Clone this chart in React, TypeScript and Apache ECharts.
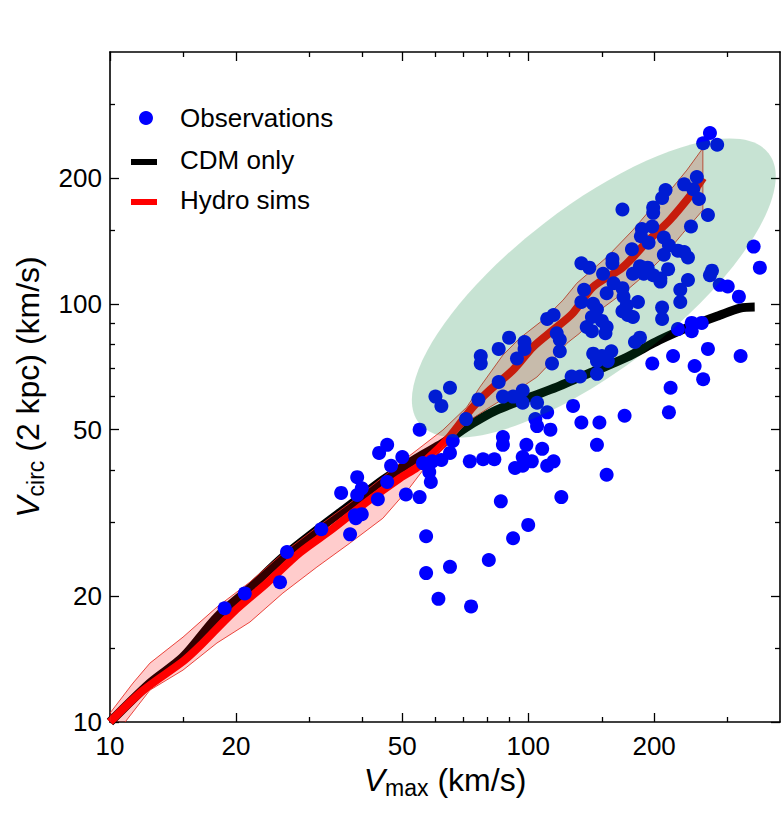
import React, { useEffect, useRef } from 'react';
import * as echarts from 'echarts';

const FONT = '"Liberation Sans", Arial, Helvetica, sans-serif';

// Tick values (log axes)
const xMajorTicks = [10, 20, 50, 100, 200];
const xMinorTicks = [15, 30, 40, 60, 70, 80, 90, 150, 300];
const yMajorTicks = [10, 20, 50, 100, 200];
const yMinorTicks = [15, 30, 40, 60, 70, 80, 90, 150, 300];

// CDM only curve
const cdmVmax = [10, 12.46, 14.95, 18.02, 21.61, 25.91, 31.24, 37.47, 44.92, 54.2, 62.5, 73.7, 84, 101, 117, 133, 143, 172, 206, 248, 287, 321, 348];
const cdmVcirc = [10, 12.39, 14.3, 17.82, 20.9, 24.79, 28.77, 33.0, 37.89, 42.76, 46.43, 51.8, 55.7, 59.8, 63.2, 66.8, 68.8, 74.5, 81.9, 88.9, 93.9, 97.6, 98.2];

// Hydro sims median curve
const hydroVmax = [10, 12, 15, 16.41, 19.7, 23.73, 28.45, 34.1, 41.15, 49.34, 54.2, 59.2, 65, 73.7, 81, 91.9, 102.6, 114.6, 127.9, 142.7, 168.5, 192, 218, 248, 262];
const hydroVcirc = [10, 11.9, 14.0, 15.2, 18.3, 21.5, 25.4, 29.0, 33.6, 38.3, 40.6, 43.8, 48.2, 56.6, 62.2, 69.4, 78.8, 86.5, 95.0, 109.6, 122.4, 140.4, 158.5, 185, 200];

// Hydro sims scatter band (upper / lower edges)
const hydroUpperVmax = [10, 11.35, 12.46, 14.95, 18.02, 21.61, 25.91, 31.24, 37.47, 44.92, 49.34, 54.2, 62.5, 71.3, 76.64, 87.0, 95.51, 108.4, 121.1, 130.7, 154.2, 177.9, 195.4, 221.8, 239.6, 261.6];
const hydroUpperVcirc = [10.5, 12.39, 13.83, 15.96, 18.83, 21.61, 25.34, 29.24, 33.38, 38.51, 41.6, 44.7, 49.9, 56.6, 63.2, 75.4, 82.8, 91.4, 102.0, 112.0, 129.3, 150.0, 167.5, 190.1, 208.8, 235.6];
const hydroLowerVmax = [10, 10.87, 12.46, 14.95, 18.02, 21.61, 25.91, 31.24, 37.47, 44.92, 52.13, 59.17, 63.2, 72.53, 80.97, 91.9, 104.9, 114.6, 123.8, 132.9, 148.4, 172.2, 192.2, 210.0, 234.4, 261.6];
const hydroLowerVcirc = [9.3, 10, 11.92, 13.31, 15.45, 17.34, 20.34, 23.47, 26.78, 30.7, 36.4, 43.0, 45.9, 52.7, 56.6, 61.15, 66.8, 73.3, 80.5, 85.1, 96.6, 107.8, 118.4, 129.3, 147.5, 167.5];

// Green ellipse (in data values)
const ellipseCenter = [143.5, 109];
const ellipseMajorEnd = [376, 229];
const ellipseAxisRatio = 0.37;

// Observations [Vmax, Vcirc(2kpc)]
const observations: [number, number][] = [
  [272, 256], [262, 242], [283, 240], [236, 193], [253, 201], [248, 188], [256, 178], [269, 163],
  [213, 187], [209, 179], [199, 170], [199, 165], [168, 168], [245, 153], [198, 153], [187, 151],
  [186, 145], [194, 140], [177, 135], [211, 144], [217, 138], [228, 134], [236, 133], [241, 129],
  [211, 131], [159, 128], [346, 137], [358, 122], [134, 125], [140, 122], [151, 118], [185, 123],
  [193, 122], [178, 118], [189, 118], [199, 117], [207, 115], [216, 121], [207, 113], [275, 120],
  [272, 117], [241, 114], [287, 111], [300, 110], [319, 104], [231, 108], [160, 112], [136, 108],
  [154, 106], [168, 109], [169, 104], [159, 125], [134, 101], [231, 101], [183, 101], [172, 99],
  [173, 94], [143, 100], [146, 97], [142, 93], [150, 91], [154, 88], [138, 88], [142, 86],
  [153, 85], [168, 96], [178, 93], [209, 98], [209, 92], [111, 92], [115, 94], [117, 85],
  [119, 82], [90, 83], [85, 78], [98, 81], [98, 78], [228, 87], [246, 90], [246, 86],
  [260, 90], [185, 83], [180, 81], [119, 77], [114, 72], [77, 75], [77, 72], [94, 74],
  [143, 76], [150, 75], [158, 77], [155, 73], [146, 73], [198, 72], [222, 75], [250, 71],
  [269, 78], [322, 75], [262, 66], [219, 63], [127, 67], [133, 67], [146, 68], [65, 63],
  [60, 60], [62, 57], [85, 65], [87, 60], [92, 60], [97, 62], [76, 59], [97, 58],
  [105, 58], [111, 55], [71, 53], [55, 50], [104, 53], [105, 51], [113, 50], [128, 57],
  [134, 52], [148, 52], [146, 46], [170, 54], [217, 55], [87, 48], [87, 46], [99, 46],
  [97, 43], [108, 45], [102, 42], [93, 40.5], [97, 41], [111, 41], [115, 42], [72.5, 42],
  [78, 42.5], [83, 42.5], [66, 47], [65, 44], [46, 46], [44, 44], [50, 43], [47, 41],
  [56, 41.6], [59, 42], [62, 42.3], [58, 39.6], [58.5, 37.5], [46, 37.5], [154, 39], [51, 35],
  [55, 34.5], [86, 33.7], [120, 34.5], [100, 29.6], [92, 27.5], [80.5, 24.4], [57, 27.8], [65, 23.5],
  [57, 22.7], [61, 19.7], [73, 18.9], [18.8, 18.7], [21, 20.3], [25.5, 21.6], [26.5, 25.5], [32, 28.9],
  [37.5, 28.1], [35.7, 35.3], [39, 38.5], [39, 34.9], [40, 36.2], [38.5, 31.2], [40, 31.4], [38.7, 30.7],
  [43.7, 34.1],
];

const legendLabels = ['Observations', 'CDM only', 'Hydro sims'];

const axisMin = 10;
const axisMax = 400;

function makeAxis(position: string, ticks: number[], len: number, showLine: boolean, showLabel: boolean, extra: any = {}) {
  return {
    type: 'log',
    logBase: 10,
    min: axisMin,
    max: axisMax,
    position,
    offset: 0,
    axisLine: { show: showLine, onZero: false, lineStyle: { color: '#000', width: 1.6 } },
    axisTick: { show: true, inside: true, length: len, customValues: ticks, lineStyle: { color: '#000', width: 1.3 } },
    axisLabel: showLabel
      ? { show: true, customValues: ticks, color: '#000', fontSize: 26, fontFamily: FONT, margin: position === 'bottom' ? 11 : 8 }
      : { show: false },
    splitLine: { show: false },
    minorTick: { show: false },
    minorSplitLine: { show: false },
    ...extra,
  };
}

const richName = {
  v: { fontStyle: 'italic', fontSize: 32, fontFamily: FONT, color: '#000' },
  s: { fontSize: 23, fontFamily: FONT, color: '#000', padding: [16, 0, 0, 0] },
  n: { fontSize: 32, fontFamily: FONT, color: '#000' },
};

export default function App() {
  const ref = useRef<HTMLDivElement>(null);
  useEffect(() => {
    document.body.style.margin = '0';
    const chart = echarts.init(ref.current!, null, { renderer: 'svg' });
    const option: any = {
      animation: false,
      backgroundColor: '#fff',
      grid: { left: 110, right: 2, top: 52, bottom: 92, containLabel: false, outerBoundsMode: 'none' },
      xAxis: [
        makeAxis('bottom', xMajorTicks, 9, true, true, {
          name: '{v|V}{s|max}{n| (km/s)}',
          nameLocation: 'middle',
          nameGap: 30,
          nameTextStyle: { color: '#000', fontSize: 32, fontFamily: FONT, rich: richName },
        }),
        makeAxis('bottom', xMinorTicks, 5, false, false),
        makeAxis('top', xMajorTicks, 9, true, false),
        makeAxis('top', xMinorTicks, 5, false, false),
      ],
      yAxis: [
        makeAxis('left', yMajorTicks, 9, true, true, {
          name: '{v|V}{s|circ}{n| (2 kpc) (km/s)}',
          nameLocation: 'middle',
          nameGap: 62,
          nameRotate: 90,
          nameTextStyle: { color: '#000', fontSize: 32, fontFamily: FONT, rich: richName },
        }),
        makeAxis('left', yMinorTicks, 5, false, false),
        makeAxis('right', yMajorTicks, 9, true, false),
        makeAxis('right', yMinorTicks, 5, false, false),
      ],
      series: [
        {
          name: legendLabels[1],
          type: 'line',
          xAxisIndex: 0,
          yAxisIndex: 0,
          z: 2,
          smooth: 0.3,
          showSymbol: false,
          lineStyle: { color: '#000', width: 9, cap: 'butt' },
          data: cdmVmax.map((x, i) => [x, cdmVcirc[i]]),
        },
        {
          name: legendLabels[2],
          type: 'line',
          xAxisIndex: 0,
          yAxisIndex: 0,
          z: 3,
          smooth: 0.3,
          showSymbol: false,
          lineStyle: { color: '#ff0000', width: 8, cap: 'butt' },
          data: hydroVmax.map((x, i) => [x, hydroVcirc[i]]),
        },
        {
          name: 'Hydro band',
          type: 'custom',
          xAxisIndex: 0,
          yAxisIndex: 0,
          z: 4,
          clip: true,
          data: [[hydroVmax[0], hydroVcirc[0]]],
          renderItem: (params: any, api: any) => {
            const pts: number[][] = [];
            hydroUpperVmax.forEach((x, i) => pts.push(api.coord([x, hydroUpperVcirc[i]])));
            for (let i = hydroLowerVmax.length - 1; i >= 0; i--) pts.push(api.coord([hydroLowerVmax[i], hydroLowerVcirc[i]]));
            return {
              type: 'polygon',
              shape: { points: pts },
              style: { fill: 'rgba(255,0,0,0.2)', stroke: 'rgba(230,40,30,0.85)', lineWidth: 1 },
            };
          },
        },
        {
          name: legendLabels[0],
          type: 'scatter',
          xAxisIndex: 0,
          yAxisIndex: 0,
          z: 5,
          symbol: 'circle',
          symbolSize: 14,
          itemStyle: { color: '#0000ff', opacity: 1 },
          data: observations,
        },
        {
          name: 'Ellipse',
          type: 'custom',
          xAxisIndex: 0,
          yAxisIndex: 0,
          z: 6,
          data: [ellipseCenter],
          renderItem: (params: any, api: any) => {
            const c = api.coord(ellipseCenter);
            const e = api.coord(ellipseMajorEnd);
            const dx = e[0] - c[0];
            const dy = e[1] - c[1];
            const a = Math.hypot(dx, dy);
            const rot = Math.atan2(-dy, dx);
            return {
              type: 'ellipse',
              x: c[0],
              y: c[1],
              rotation: rot,
              shape: { cx: 0, cy: 0, rx: a, ry: a * ellipseAxisRatio },
              style: { fill: 'rgba(0,128,55,0.22)' },
            };
          },
        },
      ],
      graphic: [
        { type: 'circle', shape: { cx: 146, cy: 118, r: 7 }, style: { fill: '#0000ff' } },
        { type: 'text', x: 180, y: 118, style: { text: legendLabels[0], fontSize: 26, fontFamily: FONT, fill: '#000', verticalAlign: 'middle' } },
        { type: 'rect', shape: { x: 131, y: 159, width: 26, height: 6 }, style: { fill: '#000' } },
        { type: 'text', x: 180, y: 160, style: { text: legendLabels[1], fontSize: 26, fontFamily: FONT, fill: '#000', verticalAlign: 'middle' } },
        { type: 'rect', shape: { x: 131, y: 199, width: 26, height: 6 }, style: { fill: '#ff0000' } },
        { type: 'text', x: 180, y: 200, style: { text: legendLabels[2], fontSize: 26, fontFamily: FONT, fill: '#000', verticalAlign: 'middle' } },
      ],
    };
    chart.setOption(option);
    return () => chart.dispose();
  }, []);
  return <div ref={ref} style={{ width: 782, height: 814, background: '#fff' }} />;
}
